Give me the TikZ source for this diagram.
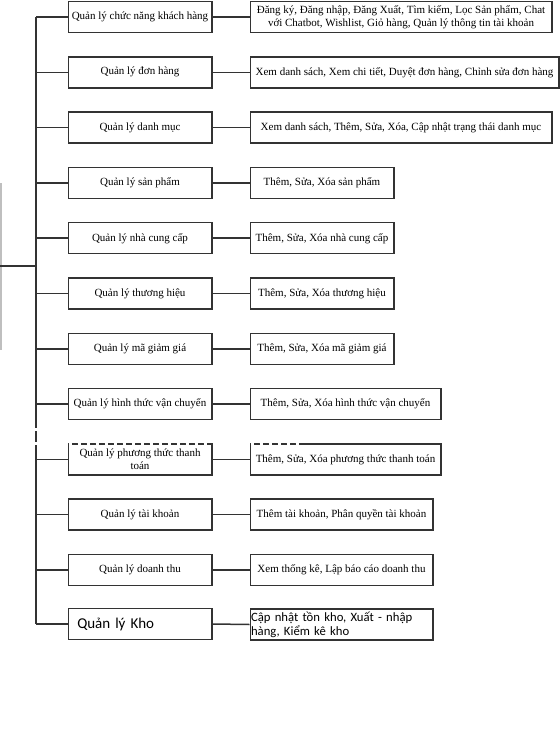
\documentclass[tikz,border=0pt]{standalone}
\usepackage{fontspec}
\setmainfont{Liberation Serif}
\newfontfamily\calib{Carlito}
\begin{document}
\begin{tikzpicture}[x=1pt,y=-1pt,
  line/.style={draw=black!80,line width=1.5pt},
  lbox/.style={line,rectangle,inner sep=0pt,minimum width=143.5pt,minimum height=31pt,
     anchor=west,font=\fontsize{11}{13.5}\selectfont,align=center},
  rbox/.style={line,rectangle,inner sep=0pt,minimum height=31pt,anchor=west,
     font=\fontsize{11}{13.5}\selectfont,align=center},
  gap/.style={draw=white,line width=2.4pt}]
\useasboundingbox (0,0) rectangle (560,753);
\fill[white] (0,0) rectangle (560,753);
% cropped root box edge
\draw[black!25,line width=1.5pt] (0.8,183) -- (0.8,350);
\coordinate (root) at (0,266);
\coordinate (rootj) at (36,266);
% left boxes
\node[lbox] (L1) at (67.5,17) {Quản lý chức năng khách hàng};
\node[lbox] (L2) at (67.5,72.3) {Quản lý đơn hàng};
\node[lbox] (L3) at (67.5,127.6) {Quản lý danh mục};
\node[lbox] (L4) at (67.5,182.9) {Quản lý sản phẩm};
\node[lbox] (L5) at (67.5,238.2) {Quản lý nhà cung cấp};
\node[lbox] (L6) at (67.5,293.5) {Quản lý thương hiệu};
\node[lbox] (L7) at (67.5,348.8) {Quản lý mã giảm giá};
\node[lbox] (L8) at (67.5,404.1) {Quản lý hình thức vận chuyển};
\node[lbox] (L9) at (67.5,459.4) {Quản lý phương thức thanh\\toán};
\node[lbox] (L10) at (67.5,514.7) {Quản lý tài khoản};
\node[lbox] (L11) at (67.5,570) {Quản lý doanh thu};
\node[lbox,align=left,text width=125.5pt,inner xsep=9pt,font=\calib\fontsize{15}{17}\selectfont] (L12) at (67.5,624) {Quản lý Kho};
% right boxes
\node[rbox,minimum width=301.5pt] (R1) at (249.5,17) {Đăng ký, Đăng nhập, Đăng Xuất, Tìm kiếm, Lọc Sản phẩm, Chat\\với Chatbot, Wishlist, Giỏ hàng, Quản lý thông tin tài khoản};
\node[rbox,minimum width=308.5pt] (R2) at (249.5,72.3) {Xem danh sách, Xem chi tiết, Duyệt đơn hàng, Chỉnh sửa đơn hàng};
\node[rbox,minimum width=301.5pt] (R3) at (249.5,127.6) {Xem danh sách, Thêm, Sửa, Xóa, Cập nhật trạng thái danh mục};
\node[rbox,minimum width=143.5pt] (R4) at (249.5,182.9) {Thêm, Sửa, Xóa sản phẩm};
\node[rbox,minimum width=143.5pt] (R5) at (249.5,238.2) {Thêm, Sửa, Xóa nhà cung cấp};
\node[rbox,minimum width=143.5pt] (R6) at (249.5,293.5) {Thêm, Sửa, Xóa thương hiệu};
\node[rbox,minimum width=143.5pt] (R7) at (249.5,348.8) {Thêm, Sửa, Xóa mã giảm giá};
\node[rbox,minimum width=190.5pt] (R8) at (249.5,404.1) {Thêm, Sửa, Xóa hình thức vận chuyển};
\node[rbox,minimum width=190.5pt] (R9) at (249.5,459.4) {Thêm, Sửa, Xóa phương thức thanh toán};
\node[rbox,minimum width=182.5pt] (R10) at (249.5,514.7) {Thêm tài khoản, Phân quyền tài khoản};
\node[rbox,minimum width=182.5pt] (R11) at (249.5,570) {Xem thống kê, Lập báo cáo doanh thu};
\node[rbox,minimum width=182.5pt,text width=181pt,inner xsep=0.8pt,align=left,font=\calib\fontsize{12.7}{14}\selectfont] (R12) at (249.5,624.5) {Cập nhật tồn kho, Xuất - nhập\\hàng, Kiểm kê kho};
% trunk coordinates
\foreach \i/\y in {1/17,2/72.3,3/127.6,4/182.9,5/238.2,6/293.5,7/348.8,8/404.1,9/459.4,10/514.7,11/570,12/624}
  \coordinate (t\i) at (36,\y);
\draw[line] (t1) -- (t12);
\draw[line] (root) -- (rootj);
\foreach \i in {1,...,12} {
  \draw[line] (t\i) -- (L\i.west);
  \draw[line] (L\i.east) -- (R\i.west);
}
% white scan artefacts
\coordinate (a1) at (67.5,444);
\coordinate (a2) at (211,444);
\coordinate (a3) at (249.5,444);
\coordinate (a4) at (303,444);
\draw[gap,dash pattern=on 3pt off 6pt,dash phase=-1pt] (a1) -- (a2);
\draw[gap,dash pattern=on 3pt off 6pt,dash phase=-1pt] (a3) -- (a4);
\coordinate (b1) at (36,428);
\coordinate (b2) at (36,450);
\draw[gap,dash pattern=on 3pt off 11pt] (b1) -- (b2);
\end{tikzpicture}
\end{document}
